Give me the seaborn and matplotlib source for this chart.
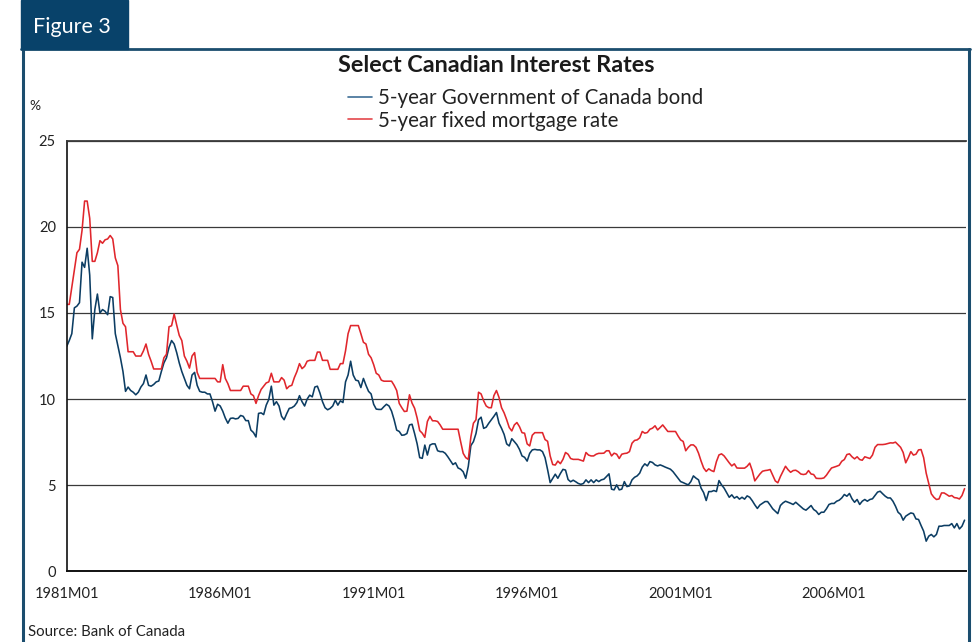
import numpy as np
import pandas as pd
import matplotlib
matplotlib.use("Agg")
import matplotlib.pyplot as plt
import seaborn as sns
from matplotlib.lines import Line2D
from matplotlib.patches import Rectangle

# ---------------- data (monthly, 1981M01 onward) ----------------
bond = [
    13.06, 13.4, 13.8, 15.3, 15.4, 15.6, 17.95, 17.65, 18.76, 17.2, 13.5, 15.2,      # 1981
    16.1, 15.0, 15.2, 15.1, 14.9, 15.95, 15.9, 13.8, 13.1, 12.4, 11.6, 10.45,        # 1982
    10.7, 10.5, 10.4, 10.25, 10.4, 10.7, 10.9, 11.4, 10.8, 10.75, 10.85, 11.0,       # 1983
    11.05, 11.6, 12.1, 12.4, 13.0, 13.4, 13.2, 12.7, 12.1, 11.6, 11.2, 10.8,         # 1984
    10.6, 11.4, 11.55, 10.8, 10.45, 10.4, 10.4, 10.3, 10.3, 9.85, 9.3, 9.7,          # 1985
    9.6, 9.3, 8.9, 8.6, 8.88, 8.9, 8.85, 8.88, 9.05, 9.0, 8.75, 8.75,                # 1986
    8.2, 8.06, 7.8, 9.17, 9.2, 9.1, 9.65, 9.98, 10.75, 9.65, 9.85, 9.6,              # 1987
    9.0, 8.8, 9.15, 9.46, 9.5, 9.6, 9.8, 10.2, 9.85, 9.6, 10.0, 10.23,               # 1988
    10.13, 10.7, 10.75, 10.35, 9.85, 9.5, 9.38, 9.46, 9.6, 9.94, 9.65, 9.9,          # 1989
    9.8, 11.0, 11.4, 12.2, 11.4, 11.1, 11.06, 10.67, 11.2, 10.8, 10.45, 10.3,        # 1990
    9.7, 9.42, 9.4, 9.4, 9.56, 9.7, 9.6, 9.3, 8.8, 8.2, 8.12, 7.9,                   # 1991
    7.92, 8.0, 8.5, 8.54, 8.0, 7.4, 6.6, 6.56, 7.33, 6.75, 7.33, 7.4,                # 1992
    7.4, 7.0, 6.95, 6.95, 6.85, 6.65, 6.42, 6.2, 6.3, 6.0, 5.93, 5.78,               # 1993
    5.4, 6.1, 7.3, 7.53, 8.0, 8.8, 8.95, 8.3, 8.37, 8.6, 8.8, 9.0,                   # 1994
    9.22, 8.6, 8.3, 7.95, 7.4, 7.28, 7.7, 7.53, 7.35, 7.08, 6.7, 6.62,               # 1995
    6.4, 6.85, 7.05, 7.08, 7.05, 7.05, 6.95, 6.6, 5.9, 5.15, 5.39, 5.64,             # 1996
    5.4, 5.68, 5.92, 5.88, 5.33, 5.2, 5.29, 5.2, 5.1, 5.05, 5.1, 5.31,               # 1997
    5.15, 5.31, 5.15, 5.31, 5.21, 5.31, 5.35, 5.5, 5.66, 4.77, 4.73, 5.02,           # 1998
    4.73, 4.77, 5.21, 4.92, 4.96, 5.31, 5.46, 5.54, 5.7, 6.05, 6.24, 6.12,           # 1999
    6.37, 6.32, 6.18, 6.12, 6.18, 6.12, 6.05, 5.99, 5.93, 5.79, 5.6, 5.41,           # 2000
    5.21, 5.15, 5.08, 5.02, 5.21, 5.54, 5.41, 5.31, 4.83, 4.57, 4.11, 4.63,          # 2001
    4.63, 4.69, 4.63, 5.27, 5.02, 4.83, 4.57, 4.3, 4.44, 4.25, 4.34, 4.19,           # 2002
    4.3, 4.19, 4.38, 4.3, 4.1, 3.86, 3.65, 3.85, 3.95, 4.05, 4.05, 3.85,             # 2003
    3.63, 3.49, 3.35, 3.82, 3.97, 4.07, 4.01, 3.95, 3.88, 4.01, 3.88, 3.75,          # 2004
    3.62, 3.55, 3.68, 3.82, 3.59, 3.49, 3.3, 3.43, 3.43, 3.63, 3.88, 3.94,           # 2005
    3.94, 4.07, 4.13, 4.26, 4.46, 4.36, 4.52, 4.21, 4.01, 4.17, 3.88, 4.07,          # 2006
    4.17, 4.07, 4.17, 4.21, 4.4, 4.6, 4.65, 4.5, 4.36, 4.26, 4.26, 4.07,             # 2007
    3.78, 3.43, 3.3, 2.97, 3.2, 3.3, 3.39, 3.35, 3.04, 3.01, 2.66, 2.33,             # 2008
    1.75, 2.04, 2.14, 2.0, 2.14, 2.62, 2.62, 2.66, 2.66, 2.66, 2.77, 2.52,           # 2009
    2.77, 2.46, 2.62, 2.97,                                                          # 2010
]

mortgage = [
    15.5, 15.5, 16.5, 17.5, 18.5, 18.7, 19.8, 21.5, 21.5, 20.5, 18.0, 18.0,          # 1981
    18.5, 19.2, 19.05, 19.25, 19.3, 19.5, 19.3, 18.2, 17.75, 15.2, 14.4, 14.2,       # 1982
    12.75, 12.75, 12.75, 12.5, 12.5, 12.5, 12.8, 13.2, 12.6, 12.2, 11.75, 11.75,     # 1983
    11.75, 11.75, 12.4, 12.6, 14.2, 14.26, 14.94, 14.3, 13.7, 13.4, 12.5, 12.2,      # 1984
    11.8, 12.5, 12.7, 11.55, 11.2, 11.2, 11.2, 11.2, 11.2, 11.2, 11.2, 11.0,         # 1985
    11.0, 12.0, 11.2, 10.9, 10.5, 10.5, 10.5, 10.5, 10.5, 10.75, 10.75, 10.75,       # 1986
    10.3, 10.2, 9.75, 10.2, 10.56, 10.75, 10.94, 11.0, 11.5, 11.0, 11.0, 11.0,       # 1987
    11.25, 11.1, 10.6, 10.75, 10.8, 11.25, 11.6, 12.06, 11.77, 11.9, 12.2, 12.25,    # 1988
    12.25, 12.25, 12.73, 12.73, 12.25, 12.25, 12.25, 11.73, 11.73, 11.73, 11.73, 12.06,  # 1989
    12.06, 12.8, 13.8, 14.27, 14.27, 14.27, 14.27, 13.8, 13.3, 13.2, 12.6, 12.4,     # 1990
    12.0, 11.5, 11.4, 11.1, 11.04, 11.04, 11.04, 11.04, 10.8, 10.5, 9.75, 9.5,       # 1991
    9.28, 9.3, 10.25, 9.77, 9.47, 8.9, 8.17, 8.02, 7.78, 8.7, 9.0, 8.74,             # 1992
    8.74, 8.7, 8.5, 8.25, 8.25, 8.25, 8.25, 8.25, 8.25, 8.25, 7.53, 6.85,            # 1993
    6.6, 6.5, 7.8, 8.6, 8.8, 10.4, 10.3, 9.9, 9.6, 9.5, 9.5, 10.2,                   # 1994
    10.5, 10.1, 9.5, 9.2, 8.8, 8.35, 8.15, 8.5, 8.64, 8.4, 8.05, 8.02,               # 1995
    7.4, 7.28, 7.9, 8.05, 8.05, 8.05, 8.05, 7.65, 7.55, 6.7, 6.2, 6.17,              # 1996
    6.4, 6.25, 6.5, 6.9, 6.8, 6.55, 6.5, 6.5, 6.5, 6.45, 6.4, 6.9,                   # 1997
    6.75, 6.7, 6.7, 6.8, 6.85, 6.85, 6.86, 7.0, 7.0, 6.7, 6.86, 6.8,                 # 1998
    6.55, 6.8, 6.84, 6.86, 6.95, 7.44, 7.6, 7.63, 7.75, 8.12, 8.02, 8.06,            # 1999
    8.25, 8.31, 8.45, 8.21, 8.35, 8.5, 8.31, 8.12, 8.12, 8.12, 8.12, 7.86,           # 2000
    7.63, 7.54, 7.0, 7.2, 7.34, 7.34, 7.2, 6.86, 6.4, 6.0, 5.8, 5.95,                # 2001
    5.85, 5.79, 6.37, 6.76, 6.82, 6.7, 6.5, 6.3, 6.12, 6.24, 6.0, 5.99,              # 2002
    5.99, 5.99, 6.1, 6.28, 5.85, 5.25, 5.45, 5.65, 5.81, 5.85, 5.87, 5.91,           # 2003
    5.58, 5.25, 5.14, 5.5, 5.8, 6.1, 5.9, 5.75, 5.85, 5.87, 5.78, 5.65,              # 2004
    5.62, 5.65, 5.85, 5.65, 5.62, 5.4, 5.39, 5.39, 5.42, 5.58, 5.8, 6.0,             # 2005
    6.05, 6.1, 6.16, 6.39, 6.49, 6.78, 6.82, 6.65, 6.53, 6.65, 6.49, 6.45,           # 2006
    6.65, 6.6, 6.55, 6.75, 7.2, 7.36, 7.36, 7.36, 7.38, 7.42, 7.46, 7.45,            # 2007
    7.5, 7.35, 7.2, 6.9, 6.3, 6.6, 6.95, 6.75, 6.8, 7.05, 7.07, 6.6,                 # 2008
    5.7, 5.1, 4.5, 4.3, 4.17, 4.2, 4.55, 4.55, 4.46, 4.36, 4.4, 4.28,                # 2009
    4.26, 4.2, 4.4, 4.8,                                                             # 2010
]

series_names = ["5-year Government of Canada bond", "5-year fixed mortgage rate"]
series_colors = ["#0C3D63", "#E0262C"]
legend_colors = ["#3E6E96", "#E4474B"]
xtick_labels = ["1981M01", "1986M01", "1991M01", "1996M01", "2001M01", "2006M01"]
yticks = [0, 5, 10, 15, 20, 25]
title = "Select Canadian Interest Rates"
source = "Source: Bank of Canada"

# ---------------- build table ----------------
periods = pd.period_range("1981-01", periods=len(bond), freq="M")
idx = np.arange(len(bond))
df = pd.concat([
    pd.DataFrame({"idx": idx, "period": periods.astype(str), "rate": bond, "series": series_names[0]}),
    pd.DataFrame({"idx": idx, "period": periods.astype(str), "rate": mortgage, "series": series_names[1]}),
], ignore_index=True)

# ---------------- style ----------------
sns.set_style("white")
plt.rcParams["font.family"] = ["Lato", "DejaVu Sans"]

W, H = 972, 642
fig = plt.figure(figsize=(W / 100, H / 100), dpi=100)

def fx(px):
    return px / W

def fy(py):
    return 1 - py / H

x0, x1, ytop, ybot = 66.7, 966.1, 140.8, 571.3
ax = fig.add_axes([fx(x0), fy(ybot), fx(x1) - fx(x0), fy(ytop) - fy(ybot)])

sns.lineplot(data=df, x="idx", y="rate", hue="series", hue_order=series_names,
             palette=dict(zip(series_names, series_colors)), linewidth=1.15,
             legend=False, ax=ax, estimator=None)

ax.set_xlim(0, (x1 - x0) / 2.558)
ax.set_ylim(0, 25)
ax.set_xlabel("")
ax.set_ylabel("")

# ticks
year_ticks = list(range(0, len(bond), 12))
ax.set_xticks(year_ticks)
lab_map = {i * 60: lab for i, lab in enumerate(xtick_labels)}
ax.set_xticklabels([lab_map.get(t, "") for t in year_ticks])
ax.set_yticks(yticks)
ax.set_yticklabels([str(v) for v in yticks])
ax.tick_params(axis="y", direction="out", length=3.2, width=0.9, color="#333333",
               pad=4.6, labelsize=10.5, labelcolor="#222222")
ax.tick_params(axis="x", direction="out", length=3.4, width=0.9, color="#333333",
               pad=8.2, labelsize=10.5, labelcolor="#222222")

# grid & spines
ax.yaxis.grid(True, color="#3a3a3a", linewidth=0.9)
ax.xaxis.grid(False)
ax.set_axisbelow(True)
ax.spines["right"].set_visible(False)
ax.spines["top"].set_color("#3a3a3a")
ax.spines["top"].set_linewidth(1.3)
ax.spines["left"].set_color("#111111")
ax.spines["left"].set_linewidth(1.2)
ax.spines["bottom"].set_color("#111111")
ax.spines["bottom"].set_linewidth(1.4)

# ---------------- frame & tab ----------------
frame_color = "#1B4D6E"
fig.patches.append(Rectangle((fx(21), fy(48.5)), fx(128) - fx(21), 48.5 / H,
                             transform=fig.transFigure, color="#08426A", zorder=5))
fig.text(fx(33), fy(32.7), "Figure 3", color="white", fontsize=15.5, va="baseline",
         ha="left", zorder=6)
fig.lines.append(Line2D([fx(21), fx(970)], [fy(48.8)] * 2, transform=fig.transFigure,
                        color=frame_color, linewidth=2.0))
fig.lines.append(Line2D([fx(22.6)] * 2, [fy(48.8), 0], transform=fig.transFigure,
                        color=frame_color, linewidth=2.2))
fig.lines.append(Line2D([fx(968.8)] * 2, [fy(48.8), 0], transform=fig.transFigure,
                        color=frame_color, linewidth=2.2))

# ---------------- title & legend ----------------
fig.text(fx(496), fy(72), title, ha="center", va="baseline", fontsize=16.8,
         fontweight="bold", color="#1a1a1a")
leg_y_line = [96.7, 119.3]
leg_y_text = [104.0, 126.7]
for name, col, yl, yt in zip(series_names, legend_colors, leg_y_line, leg_y_text):
    fig.lines.append(Line2D([fx(348), fx(372)], [fy(yl)] * 2, transform=fig.transFigure,
                            color=col, linewidth=1.2))
    fig.text(fx(378), fy(yt), name, ha="left", va="baseline", fontsize=14.8,
             color="#222222")

fig.text(fx(29), fy(110), "%", ha="left", va="baseline", fontsize=10, color="#222222")
fig.text(fx(28.3), fy(636), source, ha="left", va="baseline", fontsize=10.8,
         color="#222222")

fig.savefig("out.png", dpi=100)
